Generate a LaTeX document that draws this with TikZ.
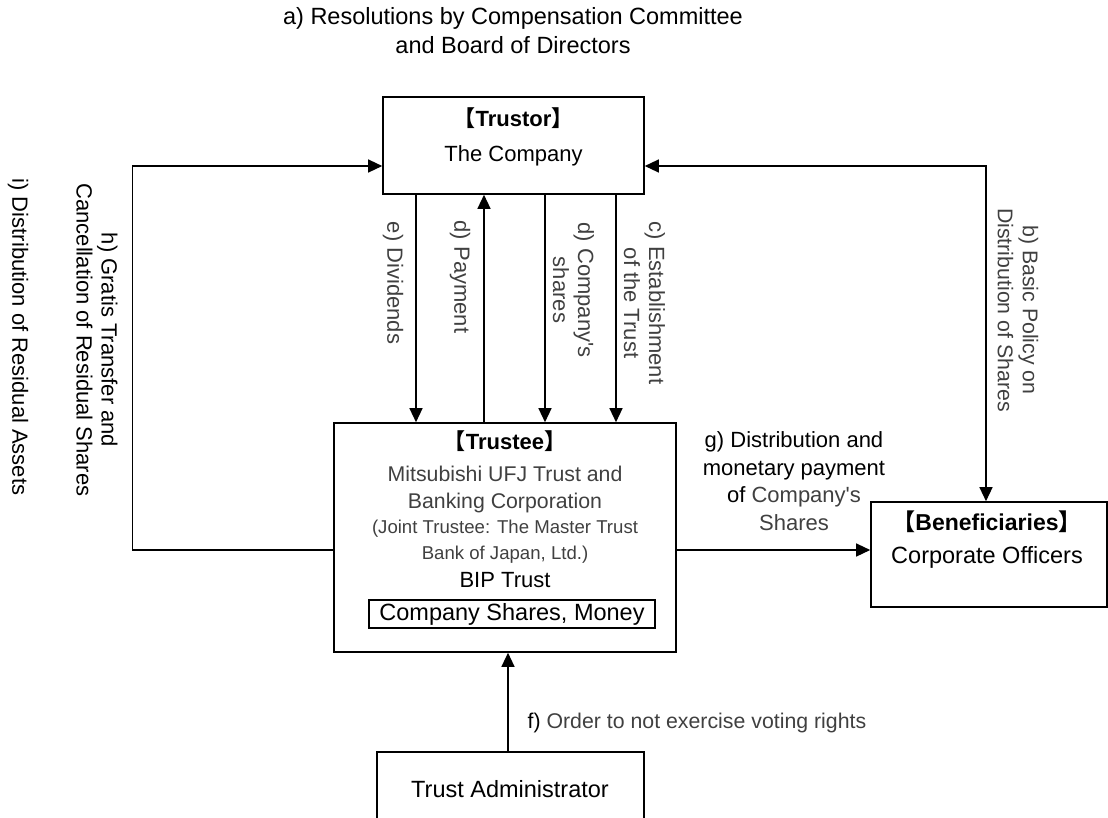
\documentclass[tikz,border=0pt]{standalone}
\usepackage{fontspec}
\setmainfont{Liberation Sans}[Ligatures=TeXOff]
\newfontfamily\cjk{Noto Sans CJK JP}
\usetikzlibrary{arrows.meta, calc}
\definecolor{labelgray}{HTML}{404040}
\newcommand{\headline}[1]{{\cjk\bfseries 【}\textbf{#1}{\cjk\bfseries 】}}
\tikzset{
  box/.style={draw, line width=1.6pt, inner sep=0pt},
  txt/.style={font=\fontsize{22}{25}\selectfont, inner sep=0pt, align=center},
  smalltxt/.style={font=\fontsize{18.6}{21}\selectfont, inner sep=0pt, align=center, text=labelgray},
  vlabel/.style={txt, rotate=-90, text=labelgray}
}
\begin{document}
\begin{tikzpicture}[x=1pt, y=-1pt, >={Triangle[length=14pt,width=13pt]}, line width=1.3pt]
\useasboundingbox (0,0) rectangle (1108,817);
\clip (0,0) rectangle (1108,817);

% boxes
\node[box, minimum width=261pt, minimum height=97pt] (trustor) at (513.5,145.5) {};
\node[box, minimum width=342pt, minimum height=229pt] (trustee) at (505,537.5) {};
\node[box, minimum width=236pt, minimum height=105pt] (benef) at (989,554.5) {};
\node[box, minimum width=267pt, minimum height=78pt] (admin) at (510.5,791) {};
\node[box, minimum width=286pt, minimum height=28pt,
      font=\fontsize{23.5}{26}\selectfont] (assets) at (512,614) {Company Shares, Money};

% title
\node[txt, anchor=base, font=\fontsize{23.5}{26}\selectfont] (title1) at (513,24) {a) Resolutions by Compensation Committee};
\node[txt, anchor=base, font=\fontsize{23.5}{26}\selectfont] (title2) at (513,53) {and Board of Directors};

% box texts
\node[txt, anchor=base] (trustor-head) at (513.5,126) {\headline{Trustor}};
\node[txt, anchor=base] (trustor-name) at (513.5,161) {The Company};

\node[txt, anchor=base] (trustee-head) at (505,449) {\headline{Trustee}};
\node[txt, anchor=base, text=labelgray, font=\fontsize{21.3}{24}\selectfont] (trustee-name1) at (505,481) {Mitsubishi UFJ Trust and};
\node[txt, anchor=base, text=labelgray, font=\fontsize{21.3}{24}\selectfont] (trustee-name2) at (505,508) {Banking Corporation};
\node[smalltxt, anchor=base] (trustee-joint1) at (505,533) {(Joint Trustee: The Master Trust};
\node[smalltxt, anchor=base] (trustee-joint2) at (505,559) {Bank of Japan, Ltd.)};
\node[txt, anchor=base] (trustee-bip) at (505,587) {BIP Trust};

\node[txt, anchor=base, font=\fontsize{23}{26}\selectfont] (benef-head) at (987,530) {\headline{Beneficiaries}};
\node[txt, anchor=base, font=\fontsize{23.5}{26}\selectfont] (benef-name) at (987,563) {Corporate Officers};

\node[txt, anchor=base, font=\fontsize{23.5}{26}\selectfont] (admin-name) at (510,797) {Trust Administrator};

% trustor <-> trustee
\foreach \dx/\tip in {-97.5/->, -29.5/<-, 31.5/->, 102.5/->}
  \draw[\tip] ($(trustor.south)+(\dx,0)$) -- ($(trustee.north)+(\dx+8.5,0)$);

\node[vlabel] (lbl-e) at (393,283) {e) Dividends};
\node[vlabel] (lbl-dpay) at (460,277) {d) Payment};
\node[vlabel] (lbl-dshares) at (573.5,290) {d) Company's\\shares};
\node[vlabel] (lbl-c) at (644.5,303) {c) Establishment\\of the Trust};

% h) and i)
\draw[->] ($(trustee.west)+(0,12.5)$) -- ++(-201,0) |- ($(trustor.west)+(0,20.5)$);
\node[txt, rotate=-90] (lbl-h) at (97,340) {h) Gratis Transfer and\\Cancellation of Residual Shares};
\node[txt, rotate=-90] (lbl-i) at (18,337) {i) Distribution of Residual Assets};

% b)
\draw[<->] ($(trustor.east)+(0,20.5)$) -| ($(benef.north)+(-3,0)$);
\node[vlabel, font=\fontsize{21.3}{25}\selectfont] (lbl-b) at (1018,310) {b) Basic Policy on\\Distribution of Shares};

% g)
\draw[->] ($(trustee.east)+(0,12.5)$) -- ($(benef.west)+(0,-4.5)$);
\node[txt, anchor=north, font=\fontsize{22}{27.5}\selectfont] (lbl-g) at (794,431)
  {g) Distribution and\\monetary payment\\of {\color{labelgray}Company's}\\{\color{labelgray}Shares}};

% f)
\draw[->] ($(admin.north)+(-2.5,0)$) -- ($(trustee.south)+(3,0)$);
\node[txt, anchor=base west, font=\fontsize{21.3}{24}\selectfont] (lbl-f) at (527,728)
  {f) {\color{labelgray}Order to not exercise voting rights}};
\end{tikzpicture}
\end{document}
